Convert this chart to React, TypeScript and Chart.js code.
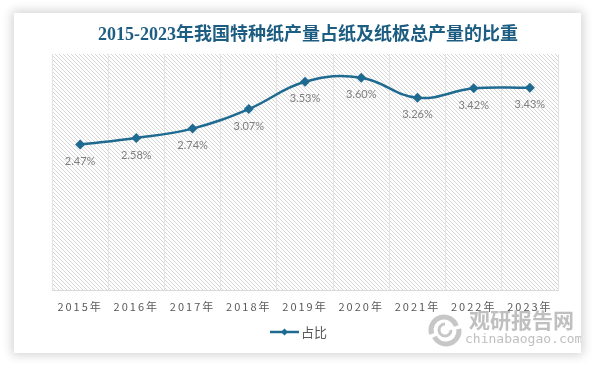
import React, { useEffect, useRef } from "react";
import { Chart, registerables } from "chart.js";

Chart.register(...registerables);

const titleText = "2015-2023年我国特种纸产量占纸及纸板总产量的比重";
const years = ["2015年", "2016年", "2017年", "2018年", "2019年", "2020年", "2021年", "2022年", "2023年"];
const shares = [2.47, 2.58, 2.74, 3.07, 3.53, 3.6, 3.26, 3.42, 3.43];
const seriesName = "占比";
const yMin = 0;
const yMax = 4;

const LINE = "#1f6a90";
const CW = 567;
const CH = 340;

function makePattern(ctx: CanvasRenderingContext2D) {
  const c = document.createElement("canvas");
  c.width = 4;
  c.height = 4;
  const p = c.getContext("2d")!;
  p.fillStyle = "#ffffff";
  p.fillRect(0, 0, 4, 4);
  p.fillStyle = "#d6d6d6";
  for (let i = 0; i < 4; i++) p.fillRect(i, i, 1, 1);
  return ctx.createPattern(c, "repeat");
}

export default function App() {
  const ref = useRef<HTMLCanvasElement | null>(null);
  useEffect(() => {
    const canvas = ref.current!;
    const bgPlugin = {
      id: "bgPlugin",
      beforeDraw(chart: any) {
        const { ctx, chartArea } = chart;
        ctx.save();
        ctx.fillStyle = "#ffffff";
        ctx.fillRect(0, 0, chart.width, chart.height);
        const pat = makePattern(ctx);
        if (pat) {
          ctx.fillStyle = pat;
          ctx.fillRect(chartArea.left, chartArea.top, chartArea.right - chartArea.left, chartArea.bottom - chartArea.top);
        }
        ctx.restore();
        (ctx as any).letterSpacing = "2px";
      },
      beforeDatasetsDraw(chart: any) {
        (chart.ctx as any).letterSpacing = "0px";
      },
      afterDatasetsDraw(chart: any) {
        const ctx = chart.ctx;
        const meta = chart.getDatasetMeta(0);
        ctx.save();
        ctx.font = '11px Lato, "Liberation Sans", sans-serif';
        ctx.fillStyle = "#7f7f7f";
        ctx.textAlign = "center";
        ctx.textBaseline = "middle";
        meta.data.forEach((pt: any, i: number) => {
          ctx.fillText(shares[i].toFixed(2) + "%", pt.x, pt.y + 17);
        });
        ctx.restore();
      },
      afterDraw(chart: any) {
        const ctx = chart.ctx;
        ctx.save();
        (ctx as any).letterSpacing = "0px";
        // title
        ctx.font = 'bold 18px "Liberation Serif", "Noto Sans CJK SC", serif';
        ctx.fillStyle = "#1d5d82";
        ctx.textAlign = "center";
        ctx.textBaseline = "middle";
        ctx.fillText(titleText, 294, 22);
        // legend
        const ly = 319;
        ctx.strokeStyle = LINE;
        ctx.lineWidth = 2.5;
        ctx.beginPath();
        ctx.moveTo(256, ly);
        ctx.lineTo(285, ly);
        ctx.stroke();
        ctx.fillStyle = LINE;
        ctx.beginPath();
        ctx.moveTo(270.5, ly - 3.5);
        ctx.lineTo(274, ly);
        ctx.lineTo(270.5, ly + 3.5);
        ctx.lineTo(267, ly);
        ctx.closePath();
        ctx.fill();
        ctx.font = '13px "Noto Sans CJK SC", sans-serif';
        ctx.fillStyle = "#595959";
        ctx.textAlign = "left";
        ctx.fillText(seriesName, 287, ly);
        // watermark
        ctx.globalAlpha = 0.75;
        ctx.strokeStyle = "#b4b4b4";
        ctx.lineWidth = 5;
        ctx.beginPath();
        ctx.arc(430, 317, 13, Math.PI * 0.9, Math.PI * 1.9);
        ctx.stroke();
        ctx.beginPath();
        ctx.arc(432, 318, 13, Math.PI * 1.95, Math.PI * 0.85);
        ctx.stroke();
        ctx.lineWidth = 3;
        ctx.beginPath();
        ctx.arc(431, 317, 6, 0, Math.PI * 1.5);
        ctx.stroke();
        ctx.fillStyle = "#a9a9a9";
        ctx.font = 'bold 21px "Noto Sans CJK SC", sans-serif';
        ctx.textAlign = "left";
        ctx.fillText("观研报告网", 455, 307);
        ctx.font = '13px "DejaVu Sans Mono", "Liberation Mono", monospace';
        ctx.fillText("chinabaogao.com", 451, 327);
        ctx.restore();
      },
    };

    const chart = new Chart(canvas, {
      type: "line",
      data: {
        labels: years,
        datasets: [
          {
            label: seriesName,
            data: shares,
            borderColor: LINE,
            backgroundColor: LINE,
            borderWidth: 2.5,
            tension: 0.4,
            pointStyle: "rectRot",
            pointRadius: 5,
            pointBackgroundColor: LINE,
            pointBorderColor: LINE,
            pointBorderWidth: 0,
            fill: false,
            clip: false as any,
          },
        ],
      },
      options: {
        responsive: false,
        animation: false,
        devicePixelRatio: 1,
        layout: { padding: { left: 38, right: 23, top: 41, bottom: 31 } },
        plugins: {
          legend: { display: false },
          title: { display: false },
          tooltip: { enabled: false },
        },
        scales: {
          x: {
            offset: true,
            grid: {
              display: true,
              offset: true,
              color: "#e3e3e3",
              drawTicks: false,
              lineWidth: 1,
            },
            border: { display: true, color: "#d9d9d9", width: 1 },
            ticks: {
              padding: 9,
              color: "#595959",
              font: { size: 11, family: '"Noto Sans CJK SC", sans-serif' },
              maxRotation: 0,
              autoSkip: false,
            },
          },
          y: {
            display: false,
            min: yMin,
            max: yMax,
          },
        },
      },
      plugins: [bgPlugin],
    });
    return () => chart.destroy();
  }, []);

  return (
    <div style={{ position: "fixed", left: 0, top: 0, width: 594, height: 366, background: "#ffffff", overflow: "hidden" }}>
      <div
        style={{
          position: "absolute",
          left: 14,
          top: 13,
          width: CW,
          height: CH,
          background: "#ffffff",
          boxShadow: "0 0 10px 2px rgba(0,0,0,0.18)",
        }}
      >
        <canvas ref={ref} width={CW} height={CH} style={{ display: "block", width: CW, height: CH }} />
      </div>
    </div>
  );
}
